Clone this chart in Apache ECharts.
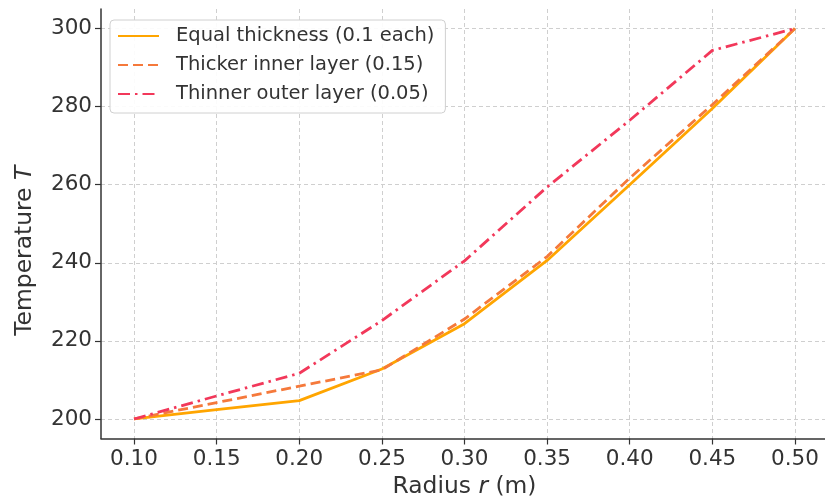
<!DOCTYPE html>
<html>
<head>
<meta charset="utf-8">
<script src="https://cdn.jsdelivr.net/npm/echarts@6/dist/echarts.min.js"></script>
<style>
html,body{margin:0;padding:0;background:#fff;}
#chart{width:825px;height:503px;}
</style>
</head>
<body>
<div id="chart"></div>
<script>
const radius = [0.10, 0.15, 0.20, 0.25, 0.30, 0.35, 0.40, 0.45, 0.50];
const equalThickness = [200, 202.4, 204.7, 212.8, 224.4, 240.6, 260.0, 279.5, 300];
const thickerInner = [200, 204.2, 208.4, 212.6, 225.6, 241.6, 261.7, 280.5, 300];
const thinnerOuter = [200, 205.9, 211.7, 225.2, 240.5, 259.4, 276.5, 294.4, 300];
const xTicks = [0.10, 0.15, 0.20, 0.25, 0.30, 0.35, 0.40, 0.45, 0.50];
const yTicks = [200, 220, 240, 260, 280, 300];
const seriesNames = ['Equal thickness (0.1 each)', 'Thicker inner layer (0.15)', 'Thinner outer layer (0.05)'];

const FONT = 'DejaVu Sans';
const TICK_FS = 21.5, TITLE_FS = 23.4, LEGEND_FS = 19.5;
const pairs = arr => radius.map((r, i) => [r, arr[i]]);

const chart = echarts.init(document.getElementById('chart'), null, {renderer: 'canvas'});
const axisCommon = {
  axisLine: {show: true, lineStyle: {color: '#333', width: 1.5}},
  axisTick: {show: true, inside: false, length: 6, lineStyle: {color: '#333', width: 1.2}},
  splitLine: {show: true, lineStyle: {color: '#cfcfcf', width: 1, type: [4, 3]}},
};
const richTitle = {
  a: {fontFamily: FONT, fontSize: TITLE_FS, color: '#333'},
  b: {fontFamily: FONT, fontSize: TITLE_FS, fontStyle: 'italic', color: '#333'}
};
chart.setOption({
  animation: false,
  backgroundColor: '#fff',
  grid: {left: 101, right: -3, top: 9, bottom: 64.5, containLabel: false, outerBoundsMode: 'none'},
  xAxis: Object.assign({}, axisCommon, {
    type: 'value', min: 0.08, max: 0.52,
    axisTick: Object.assign({}, axisCommon.axisTick, {customValues: xTicks}),
    axisLabel: {customValues: xTicks, formatter: v => v.toFixed(2), color: '#333', fontFamily: FONT, fontSize: TICK_FS, margin: 10},
    name: '{a|Radius }{b|r}{a| (m)}', nameLocation: 'middle', nameGap: 37,
    nameTextStyle: {rich: richTitle}
  }),
  yAxis: Object.assign({}, axisCommon, {
    type: 'value', min: 195, max: 305,
    axisTick: Object.assign({}, axisCommon.axisTick, {customValues: yTicks}),
    axisLabel: {customValues: yTicks, color: '#333', fontFamily: FONT, fontSize: TICK_FS, margin: 9},
    name: '{a|Temperature }{b|T}', nameLocation: 'middle', nameGap: 65, nameRotate: 90,
    nameTextStyle: {padding: [0, 54, 0, 0], rich: richTitle}
  }),
  legend: {
    orient: 'vertical', left: 110, top: 20,
    backgroundColor: 'rgba(255,255,255,0.9)', borderColor: '#d0d0d0', borderWidth: 1, borderRadius: 4,
    padding: [6, 11, 9, 7], itemGap: 9, itemWidth: 41, itemHeight: 14,
    itemStyle: {opacity: 0},
    textStyle: {fontFamily: FONT, fontSize: LEGEND_FS, color: '#333', padding: [0, 0, 0, 12]},
    data: seriesNames
  },
  series: [
    {name: seriesNames[0], type: 'line', data: pairs(equalThickness), showSymbol: false, symbol: 'none', z: 3,
     lineStyle: {color: '#FFA500', width: 2.8, type: 'solid'}, itemStyle: {color: '#FFA500'}},
    {name: seriesNames[1], type: 'line', data: pairs(thickerInner), showSymbol: false, symbol: 'none', z: 4,
     lineStyle: {color: '#F5793B', width: 2.8, type: [10, 5]}, itemStyle: {color: '#F5793B'}},
    {name: seriesNames[2], type: 'line', data: pairs(thinnerOuter), showSymbol: false, symbol: 'none', z: 5,
     lineStyle: {color: '#F2385A', width: 2.8, type: [12, 5, 2.5, 5]}, itemStyle: {color: '#F2385A'}}
  ]
});
</script>
</body>
</html>
